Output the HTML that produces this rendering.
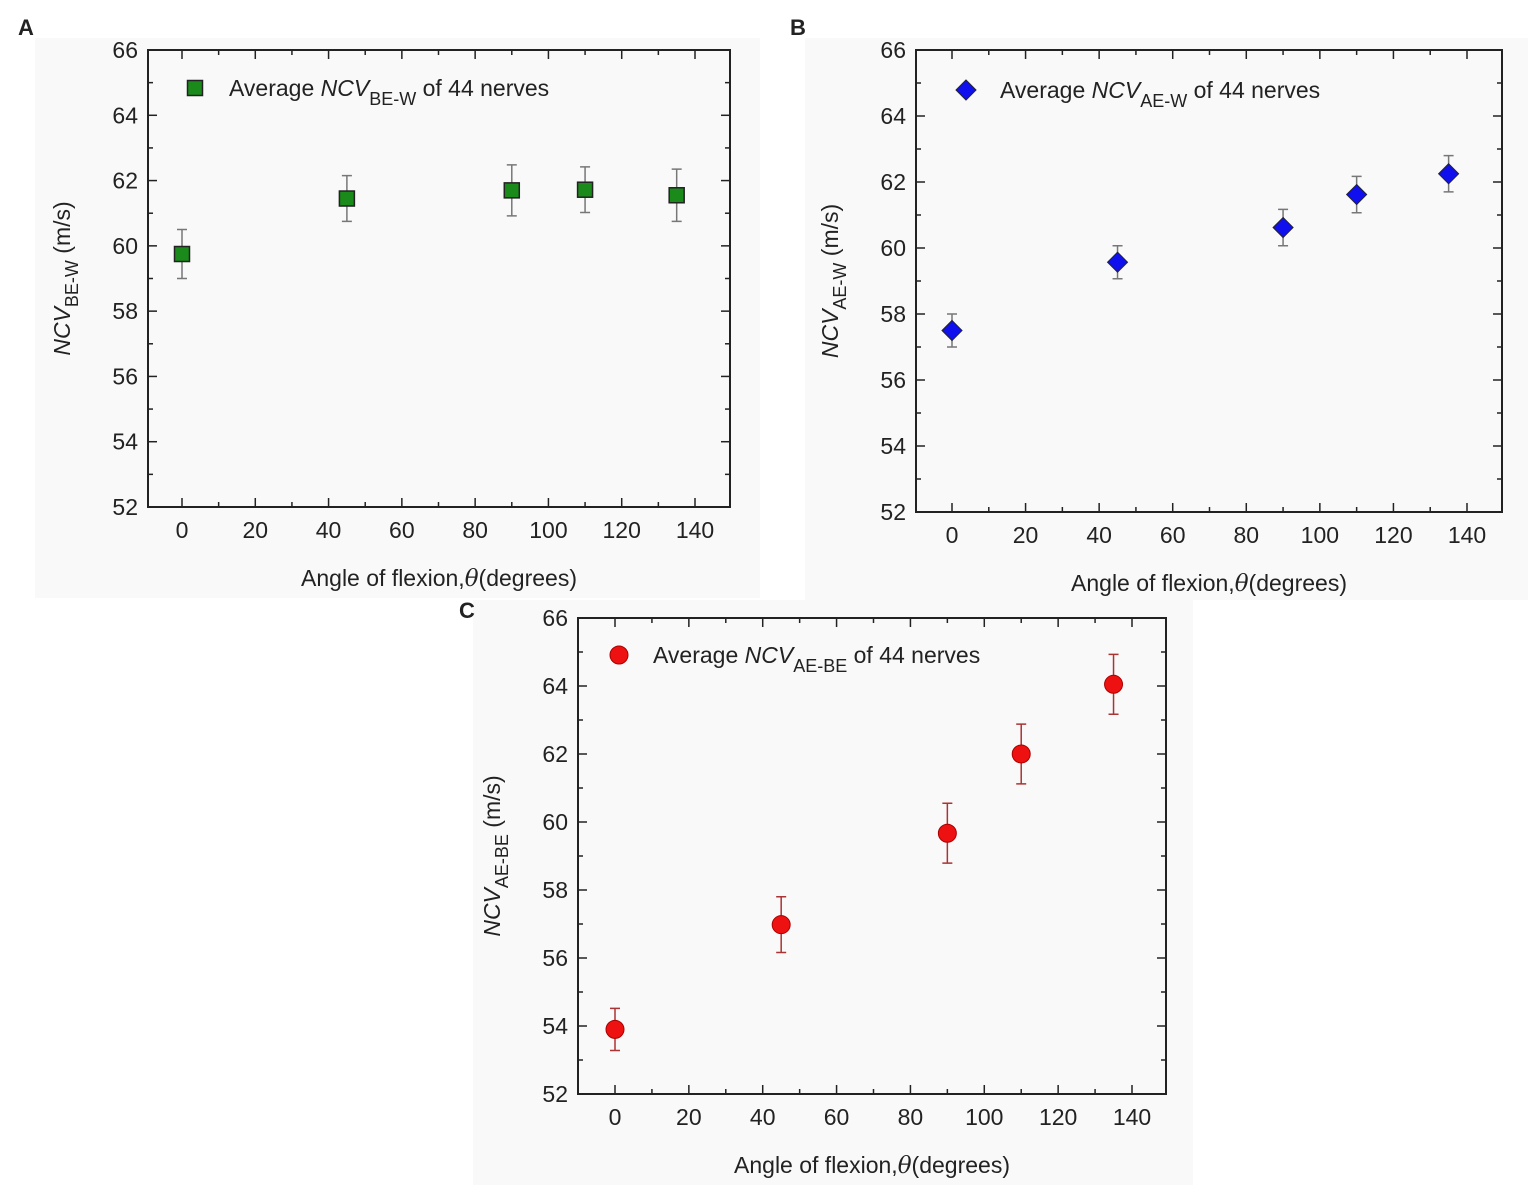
<!DOCTYPE html>
<html><head><meta charset="utf-8"><style>
body{margin:0;background:#fff;font-family:"Liberation Sans",sans-serif}
svg text{font-family:"Liberation Sans",sans-serif;fill:#222}
</style></head><body>
<svg id="fig" width="1535" height="1189" xmlns="http://www.w3.org/2000/svg">
<rect x="35" y="38" width="725" height="560" fill="#f9f9f9"/>
<rect x="805" y="38" width="723" height="562" fill="#f9f9f9"/>
<rect x="473" y="600" width="720" height="585" fill="#f9f9f9"/>
<text x="18" y="35" font-size="22" font-weight="bold">A</text>
<text x="790" y="35" font-size="22" font-weight="bold">B</text>
<text x="459" y="618" font-size="22" font-weight="bold">C</text>
</svg>
<script>
const xVals=[0,45,90,110,135];
const yA=[59.75,61.45,61.7,61.72,61.55];
const eA=[0.75,0.7,0.78,0.7,0.8];
const yB=[57.5,59.57,60.62,61.62,62.25];
const eB=[0.5,0.5,0.55,0.55,0.55];
const yC=[53.9,56.98,59.67,62.0,64.05];
const eC=[0.62,0.82,0.88,0.88,0.88];
const xTicks=[0,20,40,60,80,100,120,140];
const yTicks=[52,54,56,58,60,62,64,66];
const NS="http://www.w3.org/2000/svg";
const svg=document.getElementById('fig');
function mk(tag,attrs,parent){const e=document.createElementNS(NS,tag);for(const k in attrs)e.setAttribute(k,attrs[k]);(parent||svg).appendChild(e);return e;}
function panel(p){
  const g=mk('g',{});
  
  
  const X=v=>p.xmin+(v-0)/140*(p.xmax-p.xmin);
  const Y=v=>p.y1-(v-52)/14*(p.y1-p.y0);
  const box=mk('rect',{x:p.x0,y:p.y0,width:p.x1-p.x0,height:p.y1-p.y0,fill:'none',stroke:'#222','stroke-width':2},g);
  
  
  for(let v=0;v<=140;v+=10){const major=v%20==0;const L=major?9:5;const x=X(v);
    mk('line',{x1:x,x2:x,y1:p.y1,y2:p.y1-L,stroke:'#222','stroke-width':1.5},g);
    mk('line',{x1:x,x2:x,y1:p.y0,y2:p.y0+L,stroke:'#222','stroke-width':1.5},g);}
  for(let v=52;v<=66;v+=1){const major=v%2==0;const L=major?9:5;const y=Y(v);
    mk('line',{x1:p.x0,x2:p.x0+L,y1:y,y2:y,stroke:'#222','stroke-width':1.5},g);
    mk('line',{x1:p.x1,x2:p.x1-L,y1:y,y2:y,stroke:'#222','stroke-width':1.5},g);}
  xTicks.forEach(v=>{const t=mk('text',{x:X(v),y:p.y1+31,'font-size':23,'text-anchor':'middle'},g);t.textContent=v;
    });
  yTicks.forEach(v=>{const t=mk('text',{x:p.x0-10,y:Y(v)+8,'font-size':23,'text-anchor':'end'},g);t.textContent=v;
    });
  const xt=mk('text',{x:(p.x0+p.x1)/2,y:p.y1+79,'font-size':23,'text-anchor':'middle'},g);
  xt.innerHTML='Angle of flexion,<tspan font-style="italic" font-family="DejaVu Serif">θ</tspan>(degrees)';
  
  const yt=mk('text',{x:0,y:0,'font-size':23,'text-anchor':'middle',transform:`translate(${p.x0-78},${(p.y0+p.y1)/2}) rotate(-90)`},g);
  yt.innerHTML=`<tspan font-style="italic">NCV</tspan><tspan font-size="18" dy="8">${p.sub}</tspan><tspan dy="-8"> (m/s)</tspan>`;
  
  function marker(cx,cy,parent){
    if(p.shape==='square') return mk('rect',{x:cx-7.5,y:cy-7.5,width:15,height:15,fill:p.color,stroke:'#222','stroke-width':1.5},parent);
    if(p.shape==='diamond') return mk('path',{d:`M${cx} ${cy-10}L${cx+10} ${cy}L${cx} ${cy+10}L${cx-10} ${cy}Z`,fill:p.color,stroke:'#223','stroke-width':1},parent);
    return mk('circle',{cx:cx,cy:cy,r:9,fill:p.color,stroke:'#a00','stroke-width':1},parent);
  }
  xVals.forEach((xv,i)=>{
    const x=X(xv),y=Y(p.ys[i]),yt=Y(p.ys[i]+p.es[i]),yb=Y(p.ys[i]-p.es[i]);
    const eb=mk('path',{d:`M${x} ${yt}V${yb}M${x-5} ${yt}H${x+5}M${x-5} ${yb}H${x+5}`,stroke:p.ecol,'stroke-width':1.5,fill:'none'},g);
    
    const m=marker(x,y,g);
    
  });
  const lm=marker(p.lx,p.ly,g);
  
  const lt=mk('text',{x:p.lx+34,y:p.ly+8,'font-size':23},g);
  lt.innerHTML=`Average <tspan font-style="italic">NCV</tspan><tspan font-size="18" dy="9">${p.sub}</tspan><tspan dy="-9"> of 44 nerves</tspan>`;
  
}
panel({name:'chart-a',x0:148,x1:730,y0:50,y1:507,xmin:182,xmax:695,ys:yA,es:eA,shape:'square',color:'#1a8a1a',ecol:'#777',sub:'BE-W',lx:195,ly:88});
panel({name:'chart-b',x0:916,x1:1502,y0:50,y1:512,xmin:952,xmax:1467,ys:yB,es:eB,shape:'diamond',color:'#1010ee',ecol:'#777',sub:'AE-W',lx:966,ly:90});
panel({name:'chart-c',x0:578,x1:1166,y0:618,y1:1094,xmin:615,xmax:1132,ys:yC,es:eC,shape:'circle',color:'#ee1111',ecol:'#a33',sub:'AE-BE',lx:619,ly:655});
</script>
</body></html>
